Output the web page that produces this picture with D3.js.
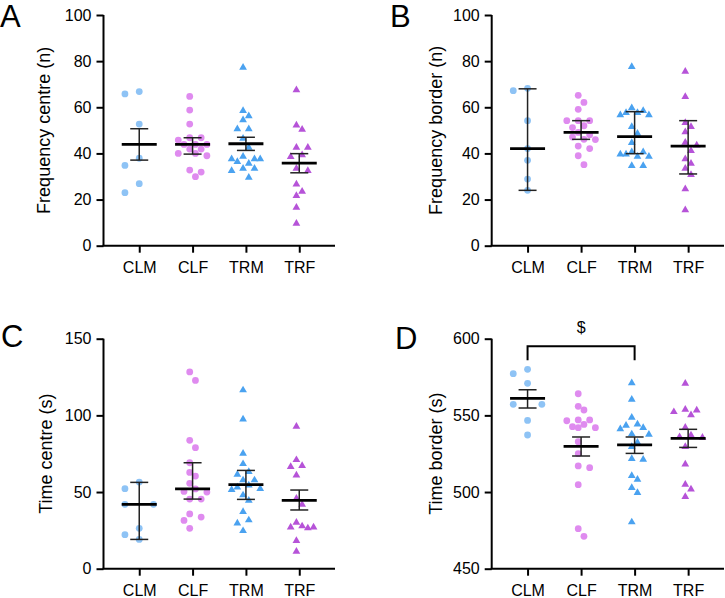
<!DOCTYPE html>
<html>
<head>
<meta charset="utf-8">
<script src="https://cdn.jsdelivr.net/npm/d3@7"></script>
<style>
  body { margin: 0; background: #fff; }
  svg { display: block; font-family: Arial, "Liberation Sans", sans-serif; }
</style>
</head>
<body>
<svg id="chart" width="725" height="598"></svg>
<script>
const groups = ['CLM', 'CLF', 'TRM', 'TRF']
const colors = ['#8ec3f5', '#df8bef', '#4aa2f0', '#b653d8']
const shapes = ['circle', 'circle', 'triangle', 'triangle']

// A - frequency centre (n)
const freqCentre = [
  [66.8, 65.8, 52.7, 37.9, 34.8, 26.9, 23.0],
  [64.7, 58.8, 52.7, 46.8, 46.8, 45.8, 43.9, 43.9, 43.9, 41.9, 41.9, 40.0, 40.0, 39.0, 32.8, 31.9, 29.9],
  [77.6, 58.8, 56.6, 54.8, 50.9, 50.9, 46.8, 42.9, 39.0, 37.9, 37.9, 37.9, 36.7, 36.0, 33.8, 33.8, 32.8, 29.9],
  [67.8, 52.6, 50.7, 42.9, 42.9, 39.7, 38.9, 33.8, 32.8, 27.0, 23.8, 22.0, 16.9, 10.0]
]
// centre line, lower bar, upper bar
const freqCentreStats = [[43.9, 37.1, 50.7], [43.9, 39.7, 46.8], [44.2, 41.3, 47.0], [35.8, 31.6, 39.9]]

// B - frequency border (n)
const freqBorder = [
  [68.2, 67.2, 54.2, 42.1, 37.0, 28.9, 24.0],
  [65.2, 62.1, 59.1, 54.2, 54.2, 54.2, 52.0, 51.2, 49.1, 48.1, 47.1, 46.1, 46.0, 43.2, 42.1, 39.0, 35.1],
  [77.9, 60.0, 58.8, 58.0, 58.0, 57.0, 57.0, 51.9, 49.0, 45.0, 41.0, 41.0, 40.0, 40.0, 39.0, 39.0, 35.0, 35.0],
  [75.9, 64.9, 53.6, 51.9, 49.6, 45.1, 43.9, 41.5, 37.9, 36.0, 33.8, 31.1, 24.9, 15.8]
]
const freqBorderStats = [[42.1, 24.0, 68.0], [49.1, 46.1, 54.2], [47.3, 39.9, 58.1], [43.2, 31.1, 54.2]]

// C - time centre (s)
const timeCentre = [
  [56.5, 52.2, 42.0, 42.0, 26.3, 22.2, 19.1],
  [128.3, 122.8, 83.7, 78.9, 69.1, 62.8, 60.4, 55.7, 52.0, 50.4, 50.0, 45.4, 45.4, 35.7, 33.7, 31.5, 26.3],
  [117.0, 98.0, 75.7, 68.9, 63.7, 62.0, 58.3, 58.3, 55.0, 53.7, 52.6, 52.0, 48.5, 45.0, 37.6, 32.2, 30.2, 25.2],
  [93.3, 71.5, 67.6, 67.0, 61.5, 46.3, 42.4, 30.7, 28.3, 27.6, 27.6, 27.0, 18.7, 11.7]
]
const timeCentreStats = [[42.0, 19.1, 56.3], [52.0, 45.4, 69.1], [54.8, 45.2, 64.1], [44.6, 38.3, 51.3]]

// D - time border (s)
const timeBorder = [
  [580.0, 577.2, 570.9, 557.2, 557.2, 546.7, 537.2],
  [564.1, 555.9, 553.5, 547.0, 547.0, 546.5, 544.1, 542.6, 542.0, 542.0, 532.8, 525.0, 517.0, 515.9, 504.8, 476.1, 471.1],
  [571.7, 560.9, 549.1, 544.8, 543.9, 542.4, 541.7, 538.3, 538.0, 532.8, 530.0, 522.2, 521.7, 511.1, 508.7, 503.3, 500.0, 480.9],
  [571.3, 554.3, 553.9, 552.8, 550.7, 542.6, 537.6, 536.5, 536.1, 530.0, 518.7, 505.4, 502.4, 497.4]
]
const timeBorderStats = [[561.1, 554.8, 566.7], [529.8, 523.5, 535.9], [530.7, 525.2, 535.9], [535.0, 529.1, 540.9]]
// significance bracket: from, to, level, foot
const timeBorderSig = [{ from: 'CLM', to: 'TRM', level: 595, foot: 586, label: '$' }]

const panels = [
  { letter: 'A', title: 'Frequency centre (n)', values: freqCentre, stats: freqCentreStats,
    domain: [0, 100], ticks: [0, 20, 40, 60, 80, 100],
    x0: 103.5, x1: 335, top: 15, bottom: 245.7, lx: 0, ly: 27, tx: 50 },
  { letter: 'B', title: 'Frequency border (n)', values: freqBorder, stats: freqBorderStats,
    domain: [0, 100], ticks: [0, 20, 40, 60, 80, 100],
    x0: 491.7, x1: 724, top: 15, bottom: 245.7, lx: 390, ly: 27, tx: 441.5 },
  { letter: 'C', title: 'Time centre (s)', values: timeCentre, stats: timeCentreStats,
    domain: [0, 150], ticks: [0, 50, 100, 150],
    x0: 103.5, x1: 335, top: 338.7, bottom: 568.7, lx: 1, ly: 347, tx: 51.5 },
  { letter: 'D', title: 'Time border (s)', values: timeBorder, stats: timeBorderStats, sig: timeBorderSig,
    domain: [450, 600], ticks: [450, 500, 550, 600],
    x0: 491.7, x1: 724, top: 338.7, bottom: 568.7, lx: 395, ly: 349, tx: 441.5 }
]

const svg = d3.select('#chart')

// column scatter: spread points of similar value over a few columns
function layout(values, y) {
  const k = values.length < 10 ? 3 : 6
  const half = 14.3
  const step = 2 * half / (k - 1)
  const cols = d3.range(k).map(i => -half + i * step)
  const order = cols.slice().sort((a, b) => Math.abs(a) - Math.abs(b) || a - b)
  const placed = []
  const hits = (c, py) => placed.some(p =>
    (p.dx === c && Math.abs(p.y - py) < 9) ||
    (step < 7 && Math.abs(p.dx - c) < step + 0.1 && Math.abs(p.y - py) < 3.5))
  const sorted = values.slice().sort(d3.descending)
  for (let i = 0; i < sorted.length; i++) {
    const py = y(sorted[i])
    // tied pair in a three-column group sits on both sides of the centre
    if (k === 3 && i + 1 < sorted.length && Math.abs(y(sorted[i + 1]) - py) < 1.5 &&
        !hits(-half, py) && !hits(half, py)) {
      placed.push({ dx: -half, y: py }, { dx: half, y: y(sorted[i + 1]) })
      i++
      continue
    }
    let dx = order.find(c => !hits(c, py))
    if (dx === undefined) {
      dx = d3.greatest(order, c => d3.min(placed.filter(p => p.dx === c), p => Math.abs(p.y - py)) ?? 99)
    }
    placed.push({ dx, y: py })
  }
  return placed
}

panels.forEach(p => {
  const g = svg.append('g')

  const x = d3.scalePoint().domain(groups).range([p.x0, p.x1]).padding(0.67)
  const y = d3.scaleLinear().domain(p.domain).range([p.bottom, p.top])

  // axes
  const yAxis = g.append('g')
    .attr('transform', `translate(${p.x0},0)`)
    .call(d3.axisLeft(y).tickValues(p.ticks).tickSize(7).tickPadding(5).tickSizeOuter(0))
  const xAxis = g.append('g')
    .attr('transform', `translate(0,${p.bottom})`)
    .call(d3.axisBottom(x).tickSize(7).tickPadding(9).tickSizeOuter(0))
  ;[yAxis, xAxis].forEach(a => {
    a.select('.domain').attr('stroke', '#000').attr('stroke-width', 2)
    a.selectAll('.tick line').attr('stroke', '#000').attr('stroke-width', 2)
    a.selectAll('.tick text').attr('fill', '#000').attr('font-size', '16px')
      .attr('font-family', 'Arial, "Liberation Sans", sans-serif')
  })
  yAxis.select('.domain').attr('d', `M0,${p.bottom}V${p.top}`)
  xAxis.select('.domain').attr('d', `M${p.x0 - 1},0H${p.x1}`)

  // labels
  g.append('text')
    .attr('x', p.lx).attr('y', p.ly)
    .attr('font-size', '31px')
    .text(p.letter)
  g.append('text')
    .attr('transform', `translate(${p.tx},${(p.top + p.bottom) / 2}) rotate(-90)`)
    .attr('text-anchor', 'middle')
    .attr('font-size', '18px')
    .text(p.title)

  // points
  p.values.forEach((vals, i) => {
    const cx = x(groups[i])
    const pts = layout(vals, y)
    if (shapes[i] === 'circle') {
      g.append('g').selectAll('circle').data(pts).join('circle')
        .attr('cx', d => cx + d.dx)
        .attr('cy', d => d.y)
        .attr('r', 3.4)
        .attr('fill', colors[i])
    } else {
      g.append('g').selectAll('path').data(pts).join('path')
        .attr('d', d3.symbol(d3.symbolTriangle, 26))
        .attr('transform', d => `translate(${cx + d.dx},${d.y + 0.8})`)
        .attr('fill', colors[i])
    }
  })

  // centre line + error bars
  const bars = g.append('g').selectAll('g').data(p.stats).join('g')
    .attr('transform', (d, i) => `translate(${x(groups[i])},0)`)
  bars.append('line')
    .attr('y1', d => y(d[1])).attr('y2', d => y(d[2]))
    .attr('stroke', '#222').attr('stroke-width', 1.5)
  bars.selectAll('line.cap').data(d => [d[1], d[2]]).join('line')
    .attr('class', 'cap')
    .attr('x1', -9).attr('x2', 9)
    .attr('y1', d => y(d)).attr('y2', d => y(d))
    .attr('stroke', '#222').attr('stroke-width', 1.5)
  bars.append('line')
    .attr('x1', -17.5).attr('x2', 17.5)
    .attr('y1', d => y(d[0])).attr('y2', d => y(d[0]))
    .attr('stroke', '#000').attr('stroke-width', 2.8)

  // significance bracket
  if (p.sig) {
    p.sig.forEach(s => {
      const xa = x(s.from), xb = x(s.to)
      g.append('path')
        .attr('d', `M${xa},${y(s.foot)}V${y(s.level)}H${xb}V${y(s.foot)}`)
        .attr('fill', 'none').attr('stroke', '#000').attr('stroke-width', 2)
      g.append('text')
        .attr('x', (xa + xb) / 2).attr('y', y(s.level) - 13)
        .attr('text-anchor', 'middle').attr('font-size', '16px')
        .text(s.label)
    })
  }
})
</script>
</body>
</html>
